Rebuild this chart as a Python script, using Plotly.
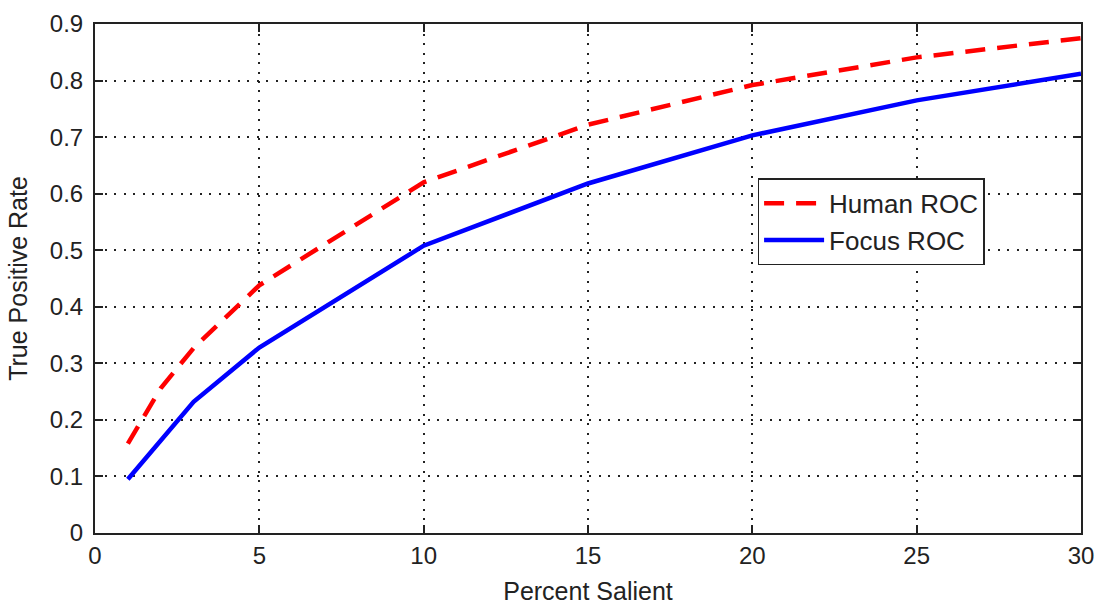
import plotly.graph_objects as go

percent_salient = [1, 2, 3, 5, 10, 15, 20, 25, 30]
human_roc = [0.158, 0.256, 0.327, 0.438, 0.620, 0.722, 0.792, 0.841, 0.875]
focus_roc = [0.095, 0.162, 0.232, 0.328, 0.508, 0.618, 0.703, 0.765, 0.812]

x_ticks = [0, 5, 10, 15, 20, 25, 30]
y_ticks = [0, 0.1, 0.2, 0.3, 0.4, 0.5, 0.6, 0.7, 0.8, 0.9]
y_tick_labels = ["0", "0.1", "0.2", "0.3", "0.4", "0.5", "0.6", "0.7", "0.8", "0.9"]

fam = "Liberation Sans, Arial, sans-serif"
tick_font = dict(family=fam, size=24, color="#222222")
title_font = dict(family=fam, size=25, color="#222222")
axis_common = dict(showline=True, linecolor="#222222", linewidth=2, mirror="allticks",
                   ticks="inside", ticklen=8, tickwidth=2, tickcolor="#222222",
                   showgrid=True, gridcolor="#222222", gridwidth=1.5, griddash="2px,7.5px",
                   zeroline=False, tickfont=tick_font, automargin=False)

fig = go.Figure()
fig.add_trace(go.Scatter(x=percent_salient, y=human_roc, mode="lines", name="Human ROC",
                         line=dict(color="#ff0000", width=4.5, dash="20px,12px")))
fig.add_trace(go.Scatter(x=percent_salient, y=focus_roc, mode="lines", name="Focus ROC",
                         line=dict(color="#0000ff", width=4.5)))

fig.update_layout(
    width=1102, height=607,
    margin=dict(l=95, r=21, t=24, b=74),
    paper_bgcolor="white", plot_bgcolor="white",
    font=tick_font,
    xaxis=dict(range=[0, 30], tickvals=x_ticks, ticklabelstandoff=0,
               title=dict(text="Percent Salient", font=title_font), **axis_common),
    yaxis=dict(range=[0, 0.9], tickvals=y_ticks, ticktext=y_tick_labels, ticklabelstandoff=5,
               title=dict(text="True Positive Rate", font=title_font), **axis_common),
    legend=dict(x=0.672, y=0.697, xanchor="left", yanchor="top",
                bordercolor="#222222", borderwidth=1.5, bgcolor="white",
                font=dict(family=fam, size=26, color="#222222"),
                itemwidth=60, tracegroupgap=0),
    showlegend=True,
)

fig.write_html("out.html")
